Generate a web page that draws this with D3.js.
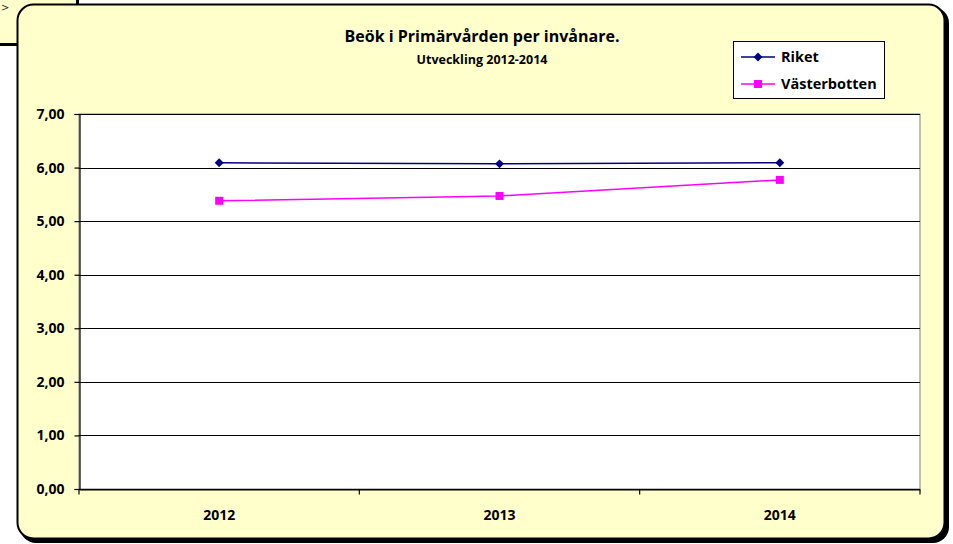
<!DOCTYPE html>
<html>
<head>
<meta charset="utf-8">
<script src="https://cdn.jsdelivr.net/npm/d3@7"></script>
<style>
  body { margin: 0; background: #fff; }
  svg { display: block; }
</style>
</head>
<body>
<div id="chart"></div>
<script>
const years = ["2012", "2013", "2014"];
const riket = [6.09, 6.07, 6.09];
const vasterbotten = [5.38, 5.47, 5.77];
const yTicks = [0, 1, 2, 3, 4, 5, 6, 7];
const seriesNames = ["Riket", "Västerbotten"];
const seriesColors = ["#000080", "#FF00FF"];

const width = 953, height = 544;
const marginLeft = 79, marginRight = 33, marginTop = 114, marginBottom = 55;
const font = "Open Sans";

const svg = d3.select("#chart").append("svg")
  .attr("width", width)
  .attr("height", height);

// leftover cell behind the chart (top left)
svg.append("rect").attr("x", 0).attr("y", 0).attr("width", 77).attr("height", 44).attr("fill", "#FFFFCC");
svg.append("line").attr("x1", 77.5).attr("x2", 77.5).attr("y1", 0).attr("y2", 10).attr("stroke", "#000").attr("stroke-width", 3);
svg.append("line").attr("x1", 0).attr("x2", 20).attr("y1", 44.5).attr("y2", 44.5).attr("stroke", "#000").attr("stroke-width", 3);
svg.append("text").attr("x", 1).attr("y", 11).attr("font-family", "DejaVu Sans").attr("font-size", 10).attr("fill", "#333").text(">");

// chart frame with shadow
svg.append("rect").attr("x", 20).attr("y", 7).attr("width", 929).attr("height", 536)
  .attr("rx", 16).attr("fill", "#000");
svg.append("rect").attr("x", 17.5).attr("y", 4.5).attr("width", 927).attr("height", 534)
  .attr("rx", 16).attr("fill", "#FFFFCC").attr("stroke", "#000").attr("stroke-width", 2);

const x = d3.scaleBand().domain(years).range([marginLeft, width - marginRight]);
const y = d3.scaleLinear().domain([0, 7]).range([height - marginBottom, marginTop]);

// plot area
svg.append("rect")
  .attr("x", x.range()[0]).attr("y", y(7))
  .attr("width", x.range()[1] - x.range()[0]).attr("height", y(0) - y(7))
  .attr("fill", "#fff").attr("stroke", "#808080").attr("stroke-width", 1);

// gridlines
svg.append("g")
  .selectAll("line")
  .data(yTicks)
  .join("line")
  .attr("x1", x.range()[0]).attr("x2", x.range()[1])
  .attr("y1", (d) => Math.round(y(d)) + 0.5).attr("y2", (d) => Math.round(y(d)) + 0.5)
  .attr("stroke", "#000").attr("stroke-width", 1.2);

// y axis
svg.append("g")
  .attr("transform", `translate(${marginLeft + 0.5},0)`)
  .call(d3.axisLeft(y).tickValues(yTicks).tickSize(5).tickPadding(10)
    .tickFormat((d) => d3.format(".2f")(d).replace(".", ",")))
  .call((g) => g.selectAll("path, line").attr("stroke", "#000").attr("stroke-width", 1.2))
  .call((g) => g.selectAll(".tick text")
    .attr("font-family", font).attr("font-size", 14).attr("font-weight", 700).attr("fill", "#000"));

// x axis
const xAxis = svg.append("g")
  .attr("transform", `translate(0,${Math.round(y(0)) + 0.5})`)
  .call(d3.axisBottom(x).tickSize(0).tickPadding(21))
  .call((g) => g.select(".domain").attr("stroke", "#000").attr("stroke-width", 1.2))
  .call((g) => g.selectAll(".tick text")
    .attr("font-family", font).attr("font-size", 14).attr("font-weight", 700).attr("fill", "#000"));
xAxis.append("g")
  .selectAll("line")
  .data(years.concat([null]))
  .join("line")
  .attr("x1", (d, i) => i < years.length ? x(d) : x.range()[1])
  .attr("x2", (d, i) => i < years.length ? x(d) : x.range()[1])
  .attr("y1", 0).attr("y2", 5)
  .attr("stroke", "#000").attr("stroke-width", 1.2);

// lines
const line = d3.line()
  .x((d, i) => x(years[i]) + x.bandwidth() / 2)
  .y((d) => y(d));

[riket, vasterbotten].forEach((values, s) => {
  svg.append("path")
    .datum(values)
    .attr("fill", "none")
    .attr("stroke", seriesColors[s])
    .attr("stroke-width", 1.5)
    .attr("d", line);
});

const diamond = d3.symbol().type(d3.symbolDiamond2).size(50);

svg.append("g")
  .selectAll("path")
  .data(riket)
  .join("path")
  .attr("transform", (d, i) => `translate(${x(years[i]) + x.bandwidth() / 2},${y(d)})`)
  .attr("d", diamond)
  .attr("fill", seriesColors[0]);

svg.append("g")
  .selectAll("rect")
  .data(vasterbotten)
  .join("rect")
  .attr("x", (d, i) => x(years[i]) + x.bandwidth() / 2 - 4)
  .attr("y", (d) => y(d) - 4)
  .attr("width", 8).attr("height", 8)
  .attr("fill", seriesColors[1]);

// title
svg.append("text")
  .attr("x", 482).attr("y", 42)
  .attr("text-anchor", "middle")
  .attr("font-family", font).attr("font-size", 16).attr("font-weight", 700)
  .text("Beök i Primärvården per invånare.");
svg.append("text")
  .attr("x", 482).attr("y", 64)
  .attr("text-anchor", "middle")
  .attr("font-family", font).attr("font-size", 12.5).attr("font-weight", 700)
  .text("Utveckling 2012-2014");

// legend
const legend = svg.append("g").attr("transform", "translate(733,41)");
legend.append("rect")
  .attr("x", 0.5).attr("y", 0.5).attr("width", 151).attr("height", 57)
  .attr("fill", "#fff").attr("stroke", "#000").attr("stroke-width", 1);
seriesNames.forEach((name, i) => {
  const ly = 16 + i * 27;
  legend.append("line")
    .attr("x1", 8).attr("x2", 42).attr("y1", ly).attr("y2", ly)
    .attr("stroke", seriesColors[i]).attr("stroke-width", 1.5);
  if (i === 0) {
    legend.append("path").attr("transform", `translate(25,${ly})`).attr("d", diamond).attr("fill", seriesColors[i]);
  } else {
    legend.append("rect").attr("x", 21).attr("y", ly - 4).attr("width", 8).attr("height", 8).attr("fill", seriesColors[i]);
  }
  legend.append("text")
    .attr("x", 48).attr("y", ly + 5)
    .attr("font-family", font).attr("font-size", 14.5).attr("font-weight", 700)
    .text(name);
});
</script>
</body>
</html>
